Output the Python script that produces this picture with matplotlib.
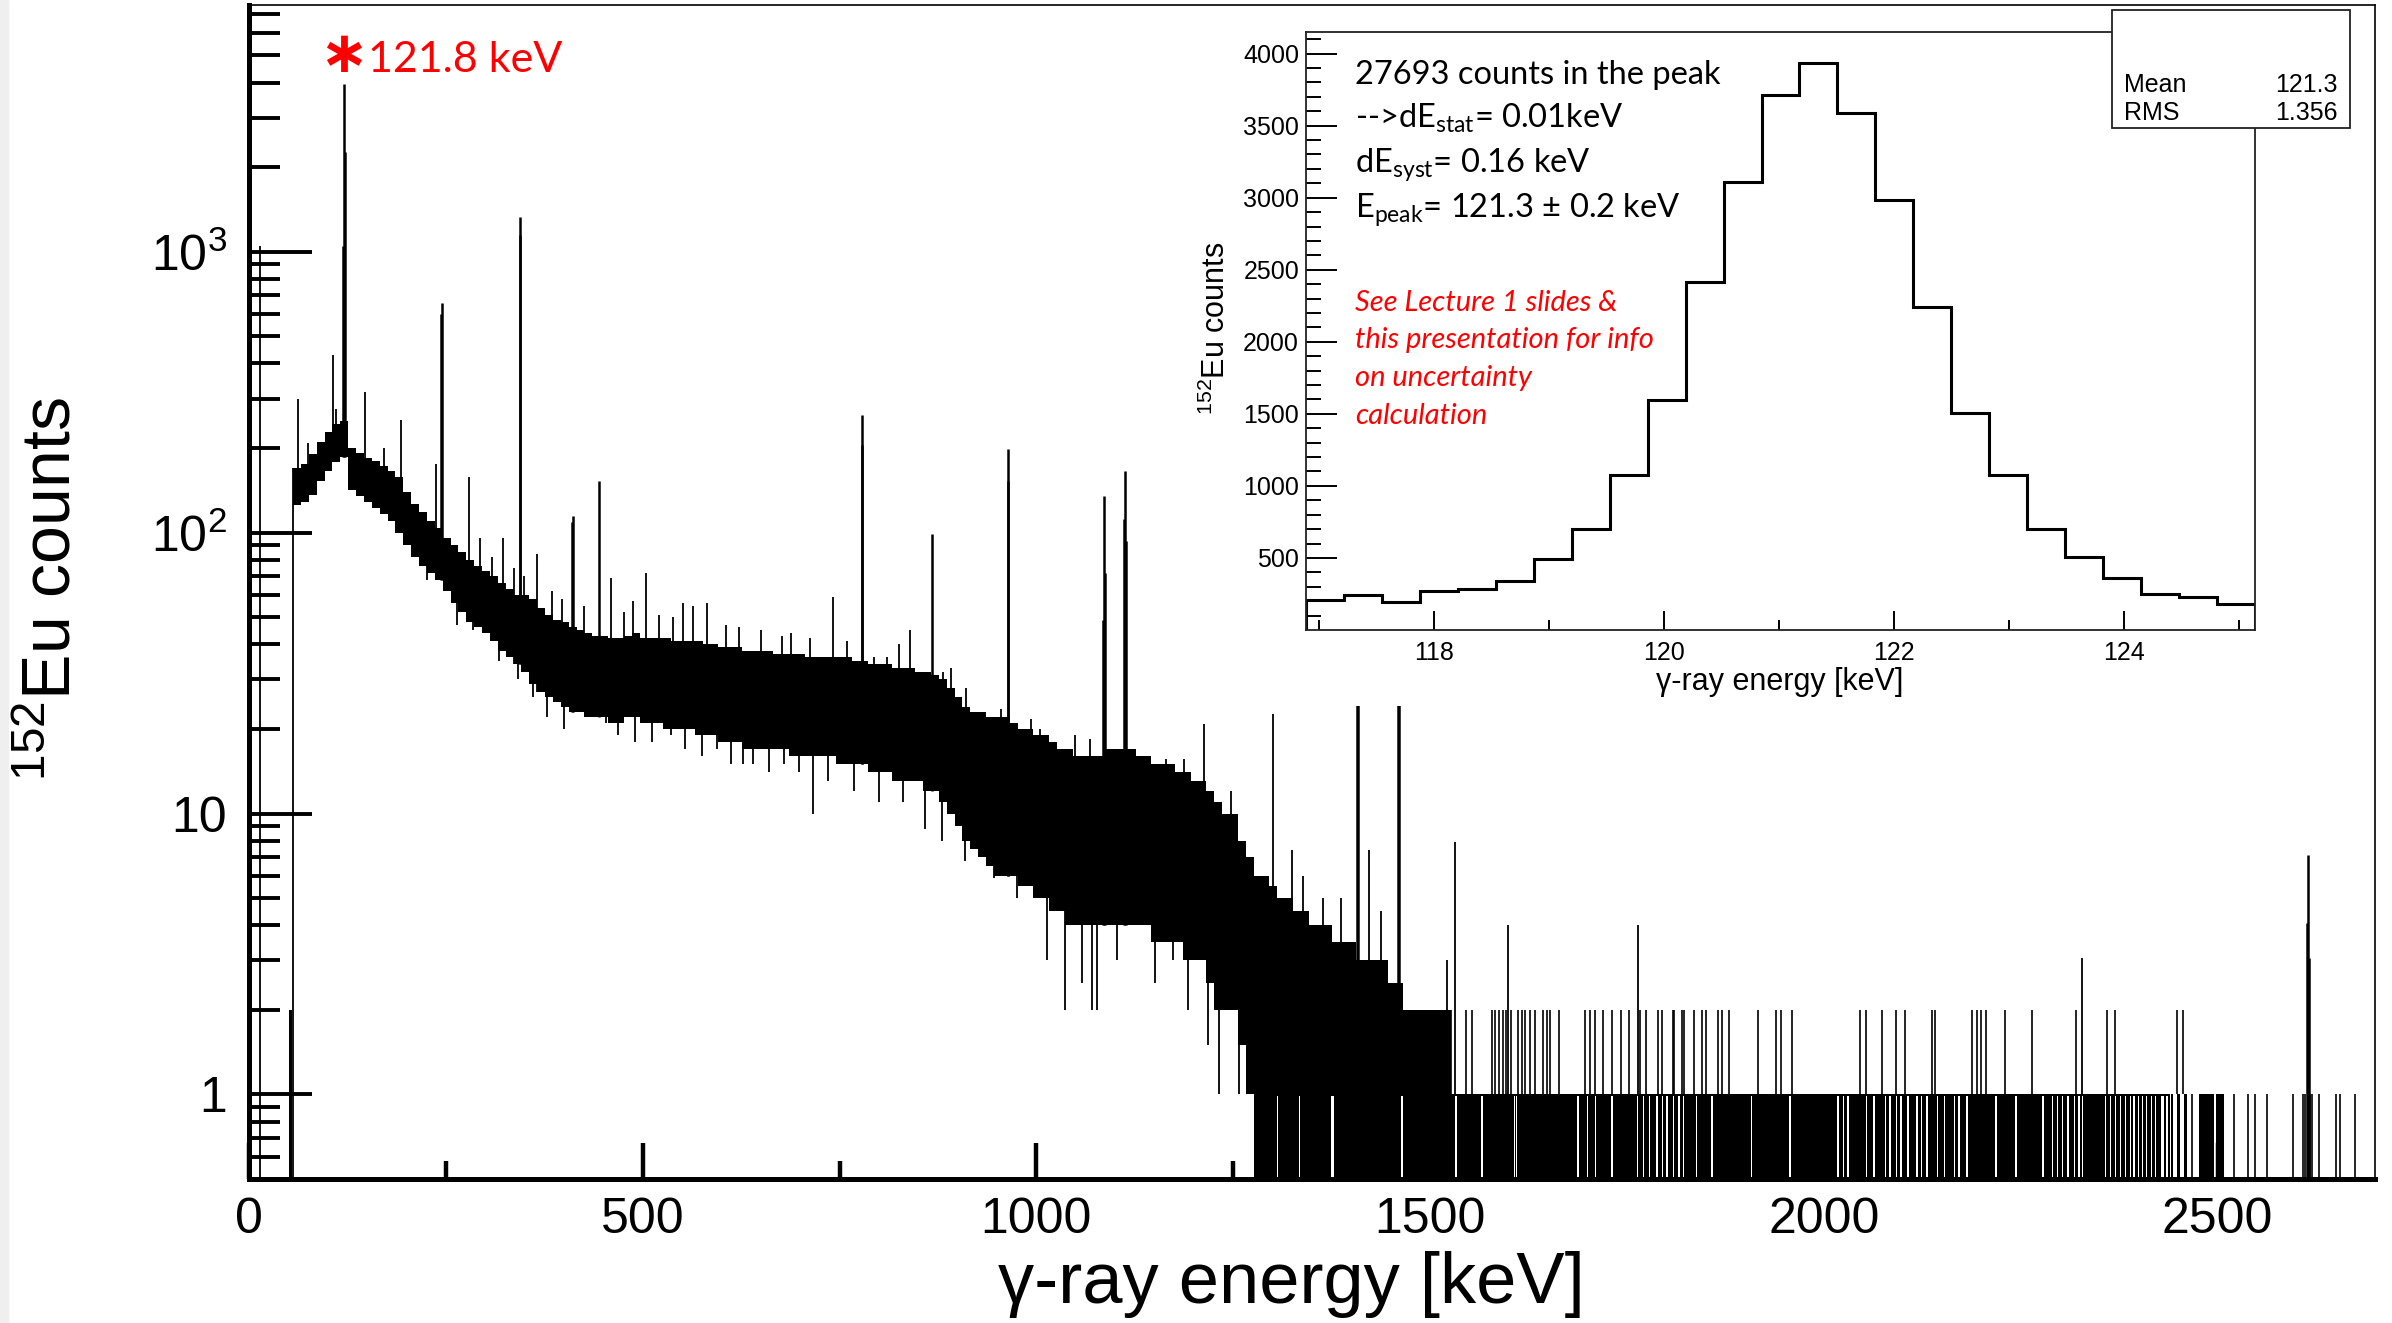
import numpy as np
import matplotlib
matplotlib.use("Agg")
from matplotlib import pyplot as plt
from matplotlib import font_manager
from matplotlib.patches import Rectangle
from matplotlib.ticker import FixedLocator, FixedFormatter, NullFormatter

HELV = 'Liberation Sans'
SLIDE = ['Lato', 'DejaVu Sans']
# schmale Variante fuer die Achsenbeschriftung, falls vorhanden
installed = {f.name for f in font_manager.fontManager.ttflist}
TICKFONT = 'Liberation Sans Narrow' if 'Liberation Sans Narrow' in installed else HELV
TICKSIZE = 39 if TICKFONT != HELV else 36

plt.rcParams['mathtext.fontset'] = 'custom'
plt.rcParams['mathtext.rm'] = 'Lato'
plt.rcParams['mathtext.it'] = 'Lato:italic'
plt.rcParams['mathtext.sf'] = HELV
plt.rcParams['mathtext.tt'] = TICKFONT

# Rauschkanal und Schwelle
noise_e = [14]
noise_n = [1050]
thr_e = [51.5, 53.5]
thr_n = [2, 2]

# Kontinuum in 10 keV Schritten: obere / untere Kante der Schwankungen (0 = leere Kanaele)
band_e = np.arange(56, 1536, 10)
band_hi = [170, 176, 190, 210, 228, 244, 250, 200, 192, 184,
           180, 172, 166, 158, 140, 126, 118, 110, 104, 96,
           90, 85, 80, 76, 73, 70, 66, 63, 60, 60,
           58, 54, 51, 49, 48, 46, 45, 44, 43, 43,
           42, 42, 43, 44, 42, 42, 42, 42, 41, 41,
           41, 41, 40, 40, 39, 39, 39, 38, 38, 38,
           38, 37, 37, 37, 37, 36, 36, 36, 36, 36,
           36, 35, 35, 34, 34, 34, 33, 33, 33, 32,
           32, 31, 30, 28, 26, 24, 23, 23, 22, 22,
           22, 21, 20, 20, 19, 19, 18, 17, 17, 16,
           16, 16, 16, 17, 17, 17, 17, 16, 16, 15,
           15, 15, 14, 14, 13, 13, 12, 11, 10, 10,
           8, 7, 6, 6, 5.5, 5, 5, 4.5, 4.5, 4,
           4, 4, 3.5, 3.5, 3.5, 3, 3, 3, 3, 2.5,
           2.5, 2, 2, 2, 2, 2, 2, 1]
band_lo = [125, 128, 136, 152, 165, 178, 186, 142, 135, 128,
           122, 116, 110, 100, 90, 82, 76, 72, 68, 62,
           56, 52, 48, 46, 44, 41, 38, 36, 34, 32,
           29, 27, 26, 25, 24, 23, 23, 22, 22, 22,
           21, 21, 22, 22, 21, 21, 21, 20, 20, 20,
           20, 19, 19, 19, 18, 18, 18, 17, 17, 17,
           17, 17, 17, 16, 16, 16, 16, 16, 16, 15,
           15, 15, 15, 14, 14, 14, 13, 13, 13, 13,
           12, 12, 11, 10, 9, 8, 7.5, 7, 6.5, 6,
           6, 6, 5.5, 5.5, 5, 5, 4.5, 4.5, 4, 4,
           4, 4, 4, 4, 4, 4, 4, 4, 4, 3.5,
           3.5, 3.5, 3.5, 3, 3, 3, 2.5, 2, 2, 2,
           1.5, 1, 0, 0, 0, 0, 0, 0, 0, 0,
           0, 0, 0, 0, 0, 0, 0, 0, 0, 0,
           0, 0, 0, 0, 0, 0, 0, 0]

# einzelne Ausreisser nach oben / unten
up_e = [62, 75, 107, 111, 147, 172, 193, 237, 280, 294, 309, 322, 337, 349, 366, 385,
        398, 425, 460, 476, 488, 504, 521, 538, 551, 564, 582, 606, 622, 650, 677, 688,
        712, 742, 760, 794, 810, 825, 839, 882, 891, 910, 955, 993, 1005, 1028, 1049,
        1068, 1139, 1165, 1188, 1213, 1247, 1300, 1324, 1339, 1364, 1387, 1423, 1437]
up_n = [299, 208, 430, 276, 316, 200, 251, 176, 158, 96, 82, 96, 75, 70, 84, 62,
        58, 55, 69, 52, 57, 72, 51, 50, 56, 55, 56, 47, 46, 45, 43, 44,
        42, 59, 41, 36, 36, 40, 45, 32, 33, 28, 23.6, 21.7, 20, 17, 19,
        18.4, 15.9, 15.6, 15.6, 20.9, 12, 22.6, 7.4, 6, 5, 5, 7.4, 4.5]
down_e = [226, 264, 285, 317, 342, 361, 378, 400, 418, 438, 453, 468, 490, 512, 536, 554,
          575, 594, 612, 628, 640, 660, 679, 698, 716, 735, 768, 800, 830, 859, 880, 909,
          946, 975, 1014, 1036, 1058, 1071, 1077, 1102, 1131, 1150, 1174, 1193, 1218,
          1232, 1257]
down_n = [68, 47, 45, 35, 30, 26, 22, 20, 23, 24, 21, 19, 18, 18, 19, 17,
          16, 17, 15, 15, 15, 14, 15, 14, 10, 13, 12, 11, 11, 8.8, 8, 6.8,
          5.9, 5, 3, 2, 2.5, 2, 2, 3, 4.5, 2.5, 3, 2, 1.5,
          1, 1]

# Photopeaks
peak_e = [119.6, 120.8, 122.0, 244.0, 244.8, 343.6, 344.4, 410.6, 411.4, 443.9,
          778.2, 779.0, 867.4, 963.4, 964.2, 1084.4, 1085.6, 1087.4, 1111.2, 1112.2,
          1113.2, 1407.6, 1408.8, 1459.8, 1461.0, 2613.2, 2614.4, 2615.6]
peak_n = [1050, 3940, 2270, 600, 655, 1150, 1330, 109, 115, 153,
          205, 262, 99, 152, 198, 49, 135, 72, 112, 166,
          93, 45, 45, 45, 45, 4.07, 7.1, 3.05]

# oberhalb ~1.5 MeV: Kanaele mit 0 oder 1 Eintrag
ones_from, ones_to = 1536, 2440
flat_e = [1306, 1334, 1376, 1464, 1533, 1566, 1607, 1610, 1688, 1700, 1710, 1731, 1763,
          1771, 1779, 1788, 1795, 1801, 1809, 1816, 1822, 1838, 1858, 1908, 1957, 2018,
          2025, 2031, 2054, 2064, 2078, 2084, 2092, 2098, 2107, 2118, 2124, 2131, 2144,
          2153, 2166, 2172, 2182, 2219, 2244, 2278, 2290, 2297, 2303, 2310, 2318, 2324,
          2329, 2358, 2364, 2370, 2377, 2383, 2389, 2394, 2400, 2405, 2410, 2416, 2421,
          2430, 2436]
flat_w = [2, 2, 3, 2, 2, 2, 2, 1.5, 3, 1.5, 1.5, 1.5, 1.5,
          1.5, 1.5, 2, 1.5, 2, 2, 1.5, 1.5, 1.5, 2, 2, 2, 3,
          2, 2, 1.5, 3, 1.5, 1.5, 1.5, 1.5, 2, 3, 2, 1.5, 1.5,
          1.5, 2, 2, 2, 2, 2, 2, 1.5, 1.5, 1.5, 1.5, 1.5, 1.5,
          1.5, 2, 2, 1.5, 1.5, 1.5, 1.5, 1.5, 1.5, 1.5, 1.5, 1.5, 1.5,
          3, 2]
block_from = [2441, 2448, 2457, 2476, 2498]
block_to = [2444, 2452, 2461, 2496, 2508]
single_e = [2467, 2521, 2539, 2548, 2563, 2596, 2608, 2611, 2617, 2620, 2629, 2650, 2656, 2674]
two_e = [1526, 1545, 1553, 1578, 1582, 1588, 1592, 1597, 1603, 1612, 1617, 1621, 1627,
         1633, 1643, 1648, 1652, 1664, 1697, 1703, 1710, 1719, 1731, 1743, 1752, 1767,
         1774, 1789, 1795, 1808, 1810, 1820, 1823, 1835, 1845, 1851, 1866, 1871, 1879,
         1916, 1939, 1945, 1960, 2046, 2053, 2074, 2092, 2103, 2137, 2141, 2188, 2194,
         2200, 2206, 2230, 2264, 2320, 2360, 2370, 2448, 2456]
more_e = [1521, 1531, 1599, 1764, 2328]
more_n = [3, 7.9, 4, 4, 3.06]

# Ausschnitt um 121.8 keV (Bins 0.33 keV)
fine_x0, fine_dx = 116.89, 0.33
fine_n = [210, 241, 194, 271, 285, 341, 490, 701, 1075, 1593, 2414, 3108, 3713,
          3935, 3588, 2981, 2241, 1509, 1075, 701, 507, 364, 252, 227, 182]
fine_mean, fine_rms = 121.3, 1.356

#2. Grafik
W, H = 2392, 1323
fig = plt.figure(figsize=(W / 100, H / 100), dpi=100)


def fx(p):
    return p / W


def fy(p):
    return 1 - p / H


fig.patches.append(Rectangle((0, 0), fx(8), 1, transform=fig.transFigure,
                             color='#efefef', zorder=-1))

ax = fig.add_axes([fx(249), fy(1179), fx(2375 - 249), (1179 - 5) / H])
ax.set_zorder(0)
ax.set_yscale('log')
ax.set_xlim(0, 2700)
ax.set_ylim(0.5, 7550)

bottom = 0.45
lo = np.where(np.array(band_lo, float) > 0, band_lo, bottom)
hi = np.array(band_hi, float)
edges = np.append(band_e, band_e[-1] + 10)


def base_at(e, arr):
    i = np.searchsorted(band_e, e, side='right') - 1
    inside = (i >= 0) & (i < len(band_e))
    return np.where(inside, np.asarray(arr)[np.clip(i, 0, len(band_e) - 1)], bottom)


ax.fill_between(edges, np.append(hi, hi[-1]), np.append(lo, lo[-1]),
                step='post', color='black', lw=0, zorder=2)
ax.vlines(band_e[0], bottom, band_hi[0], color='black', lw=1.3, zorder=2)
ax.vlines(noise_e, bottom, noise_n, color='black', lw=1.3, zorder=2)
ax.bar(thr_e, np.array(thr_n) - bottom, bottom=bottom, width=2, color='black', lw=0, zorder=2)

ax.vlines(up_e, base_at(up_e, lo), up_n, color='black', lw=1.3, zorder=2)
ax.vlines(down_e, down_n, base_at(down_e, hi), color='black', lw=1.3, zorder=2)
ax.vlines(peak_e, base_at(peak_e, lo), peak_n, color='black', lw=1.8, zorder=2)

ax.fill_between([ones_from, ones_to], bottom, 1, color='black', lw=0, zorder=2)
ax.bar(flat_e, 0.985 - bottom, bottom=bottom, width=flat_w, color='white', lw=0, zorder=2.1)
ax.bar(block_from, 1 - bottom, bottom=bottom,
       width=np.array(block_to) - np.array(block_from), align='edge', color='black', lw=0, zorder=2)
ax.vlines(single_e, bottom, 1, color='black', lw=1.2, zorder=2)
ax.vlines(two_e, 1, 2, color='black', lw=1.2, zorder=2)
ax.vlines(more_e, 1, more_n, color='black', lw=1.3, zorder=2)

for side in ['left', 'bottom']:
    ax.spines[side].set_linewidth(3.6)
for side in ['top', 'right']:
    ax.spines[side].set_linewidth(1.2)

ax.xaxis.set_major_locator(FixedLocator([0, 500, 1000, 1500, 2000, 2500]))
ax.xaxis.set_minor_locator(FixedLocator([250, 750, 1250, 1750, 2250]))
ax.yaxis.set_major_locator(FixedLocator([1, 10, 100, 1000]))
minors = [0.6, 0.7, 0.8, 0.9] + [m * d for d in (1, 10, 100) for m in range(2, 10)] + \
         [2000, 3000, 4000, 5000, 6000, 7000]
ax.yaxis.set_minor_locator(FixedLocator(minors))
ax.yaxis.set_major_formatter(FixedFormatter(['1', '10', r'$\mathtt{10^{2}}$', r'$\mathtt{10^{3}}$']))
ax.yaxis.set_minor_formatter(NullFormatter())
ax.tick_params(axis='both', which='both', direction='in', top=False, right=False)
ax.tick_params(axis='x', which='major', length=26, width=3.2, pad=13, labelsize=TICKSIZE)
ax.tick_params(axis='x', which='minor', length=13, width=3.2)
ax.tick_params(axis='y', which='major', length=45, width=2.8, pad=16, labelsize=TICKSIZE)
ax.tick_params(axis='y', which='minor', length=22, width=2.8)
for lab in ax.get_xticklabels() + ax.get_yticklabels():
    lab.set_fontfamily(TICKFONT)

fig.text(fx(1291), fy(1284), 'γ-ray energy [keV]', fontsize=52, family=HELV,
         ha='center', va='center')
fig.text(fx(53), fy(589), r'$\mathsf{^{152}}$Eu counts', fontsize=49, family=HELV,
         rotation=90, ha='center', va='center')

fig.text(fx(343), fy(55), '∗', fontsize=42, color='red', weight='bold',
         family=['DejaVu Sans'], ha='center', va='center')
fig.text(fx(368), fy(72), '121.8 keV', fontsize=31, color='red', family=SLIDE,
         ha='left', va='baseline')

#3. Einschub
fig.patches.append(Rectangle((fx(1187), fy(706)), fx(2372 - 1187), (706 - 8) / H,
                             transform=fig.transFigure, color='white', lw=0, zorder=1))

axi = fig.add_axes([fx(1306), fy(630), fx(2255 - 1306), (630 - 32) / H])
axi.set_zorder(2)
fine_edges = fine_x0 + fine_dx * np.arange(len(fine_n) + 1)
axi.stairs(fine_n, fine_edges, color='black', lw=2.2)
axi.set_xlim(fine_edges[0], fine_edges[-1])
axi.set_ylim(0, 4150)
for side in axi.spines.values():
    side.set_linewidth(1.3)
    side.set_color('#222222')
axi.xaxis.set_major_locator(FixedLocator([118, 120, 122, 124]))
axi.xaxis.set_minor_locator(FixedLocator([117, 119, 121, 123, 125]))
axi.yaxis.set_major_locator(FixedLocator(list(range(500, 4001, 500))))
axi.yaxis.set_minor_locator(FixedLocator([v for v in range(100, 4101, 100) if v % 500]))
axi.tick_params(axis='both', which='both', direction='in', top=False, right=False,
                width=1.4, labelsize=18)
axi.tick_params(axis='x', which='major', length=14, pad=8)
axi.tick_params(axis='x', which='minor', length=7)
axi.tick_params(axis='y', which='major', length=22, pad=5)
axi.tick_params(axis='y', which='minor', length=11)
for lab in axi.get_xticklabels() + axi.get_yticklabels():
    lab.set_fontfamily(HELV)

fig.text(fx(1780), fy(682), 'γ-ray energy [keV]', fontsize=22, family=HELV,
         ha='center', va='center', zorder=4)
fig.text(fx(1216), fy(328), r'$\mathsf{^{152}}$Eu counts', fontsize=22, family=HELV,
         rotation=90, ha='center', va='center', zorder=4)

info = ['27693 counts in the peak',
        r'-->dE$_{\mathrm{stat}}$= 0.01keV',
        r'dE$_{\mathrm{syst}}$= 0.16 keV',
        r'E$_{\mathrm{peak}}$= 121.3 ± 0.2 keV']
for line, yb in zip(info, [84, 128, 172, 217]):
    fig.text(fx(1355), fy(yb), line, fontsize=23.5, family=SLIDE, ha='left',
             va='baseline', zorder=4)
note = ['See Lecture 1 slides &', 'this presentation for info', 'on uncertainty', 'calculation']
for line, yb in zip(note, [311, 348, 386, 424]):
    fig.text(fx(1355), fy(yb), line, fontsize=21, family=SLIDE, style='italic',
             color='red', ha='left', va='baseline', zorder=4)

# Statistikbox
fig.patches.append(Rectangle((fx(2112), fy(128)), fx(2350 - 2112), (128 - 10) / H,
                             transform=fig.transFigure, facecolor='white',
                             edgecolor='#222222', lw=1.3, zorder=3))
fig.text(fx(2124), fy(92), 'Mean', fontsize=18, family=HELV, ha='left', va='baseline', zorder=4)
fig.text(fx(2338), fy(92), f'{fine_mean:.1f}', fontsize=18, family=HELV, ha='right',
         va='baseline', zorder=4)
fig.text(fx(2124), fy(120), 'RMS', fontsize=18, family=HELV, ha='left', va='baseline', zorder=4)
fig.text(fx(2338), fy(120), f'{fine_rms:.3f}', fontsize=18, family=HELV, ha='right',
         va='baseline', zorder=4)

fig.savefig('out.png', dpi=100)
